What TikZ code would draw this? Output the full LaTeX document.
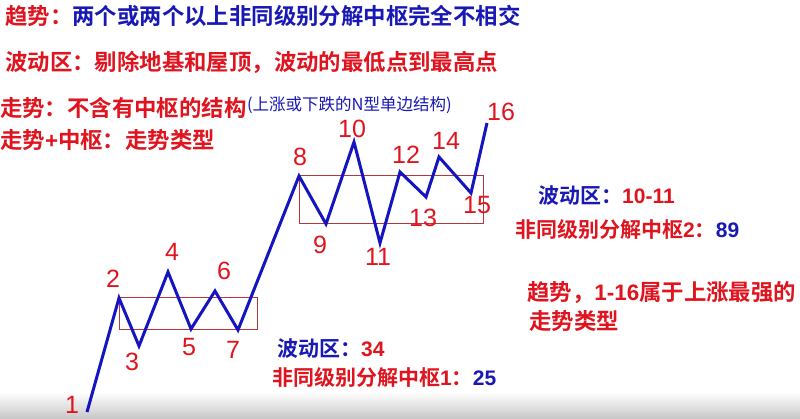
\documentclass[tikz,border=0pt]{standalone}
\usepackage{fontspec}
\setmainfont{Liberation Sans}
\newfontfamily\cjk{Noto Sans CJK SC}[BoldFont={Noto Sans CJK SC Bold}]
\newfontfamily\latn{Liberation Sans}
\usetikzlibrary{positioning}
\definecolor{cRed}{HTML}{E0141E}
\definecolor{cBlue}{HTML}{1818B4}
\definecolor{cPath}{HTML}{1414C0}
\definecolor{cBox}{HTML}{B03A3A}
\newcommand{\num}[1]{{\latn\bfseries #1}}
\tikzset{
  txt/.style={anchor=west,inner sep=0pt,font=\cjk\bfseries\fontsize{22.4}{26}\selectfont},
  note/.style={txt,font=\cjk\bfseries\fontsize{21}{24}\selectfont},
  ptlab/.style={inner sep=0pt,text=cRed,font=\latn\fontsize{25}{25}\selectfont},
  wave/.style={draw=cPath,line width=3pt,line join=miter},
  zone/.style={draw=cBox,line width=1pt},
}
\begin{document}
\begin{tikzpicture}[x=1pt,y=-1pt]
  \useasboundingbox[fill=white] (0,0) rectangle (800,419);
  \shade[top color=white,bottom color=black!22] (0,392) rectangle (800,419);

  % definitions
  \node[txt] (trend) at (5,16) {{\color{cRed}趋势：}{\color{cBlue}两个或两个以上非同级别分解中枢完全不相交}};
  \node[txt,text=cRed] (range) at (5,62) {波动区：剔除地基和屋顶，波动的最低点到最高点};
  \node[txt,text=cRed] (move) at (0,108) {走势：不含有中枢的结构};
  \node[anchor=west,inner sep=0pt,text=cBlue,font=\cjk\fontsize{16.5}{20}\selectfont] (moveN) at ([yshift=3pt]move.east) {(上涨或下跌的N型单边结构)};
  \node[txt,text=cRed] (mtype) at (0,140) {走势\num{+}中枢：走势类型};

  % price path
  \coordinate (p1) at (87,412);
  \coordinate (p2) at (119,298);
  \coordinate (p3) at (139,346);
  \coordinate (p4) at (168,272);
  \coordinate (p5) at (191,329);
  \coordinate (p6) at (215,291);
  \coordinate (p7) at (238,330);
  \coordinate (p8) at (299,176);
  \coordinate (p9) at (326,224);
  \coordinate (p10) at (354,142);
  \coordinate (p11) at (380,243);
  \coordinate (p12) at (400,172);
  \coordinate (p13) at (426,197);
  \coordinate (p14) at (439,157);
  \coordinate (p15) at (471,193);
  \coordinate (p16) at (487,123);

  % the two pivots
  \draw[zone] (p2) rectangle (257,330);
  \draw[zone] (p8) rectangle (483,224);

  \draw[wave] (p1) -- (p2) -- (p3) -- (p4) -- (p5) -- (p6) -- (p7) -- (p8)
    -- (p9) -- (p10) -- (p11) -- (p12) -- (p13) -- (p14) -- (p15) -- (p16);

  \node[ptlab] (l1) at (72,405) {1};
  \node[ptlab] (l2) at (113,279) {2};
  \node[ptlab] (l3) at (132,362) {3};
  \node[ptlab] (l4) at (172,252) {4};
  \node[ptlab] (l5) at (189,347) {5};
  \node[ptlab] (l6) at (224,271) {6};
  \node[ptlab] (l7) at (233,350) {7};
  \node[ptlab] (l8) at (300,157) {8};
  \node[ptlab] (l9) at (320,245) {9};
  \node[ptlab] (l10) at (352,129) {10};
  \node[ptlab] (l11) at (378,257) {11};
  \node[ptlab] (l12) at (406,155) {12};
  \node[ptlab] (l13) at (423,218) {13};
  \node[ptlab] (l14) at (446,141) {14};
  \node[ptlab] (l15) at (477,205) {15};
  \node[ptlab] (l16) at (501,112) {16};

  % notes
  \node[note] (range2) at (538,196) {{\color{cBlue}波动区：}{\color{cRed}\num{10-11}}};
  \node[note,text=cRed] (pivot2) at (515,230) {非同级别分解中枢\num{2}：{\color{cBlue}\num{89}}};
  \node[txt,text=cRed] (strong) at (527,293) {趋势，\num{1-16}属于上涨最强的};
  \node[txt,text=cRed] (strong2) at (529,321) {走势类型};
  \node[note] (range1) at (277,349) {{\color{cBlue}波动区：}{\color{cRed}\num{34}}};
  \node[note,text=cRed] (pivot1) at (272,377) {非同级别分解中枢\num{1}：{\color{cBlue}\num{25}}};
\end{tikzpicture}
\end{document}
